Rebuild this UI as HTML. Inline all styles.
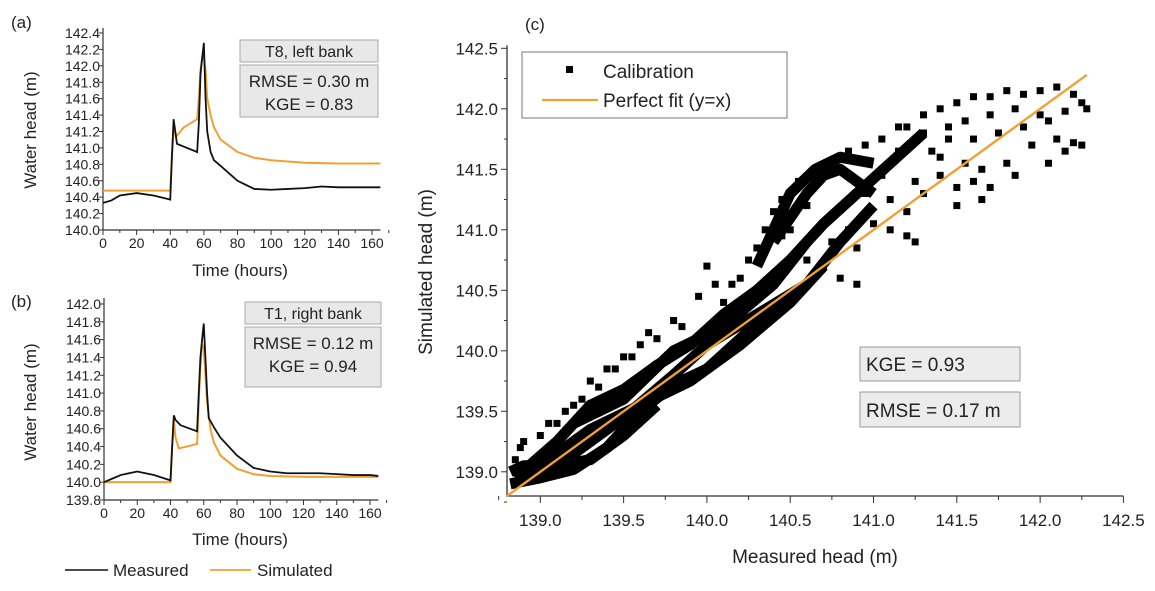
<!DOCTYPE html>
<html><head><meta charset="utf-8"><style>
html,body{margin:0;padding:0;background:#fff;}
svg{display:block;font-family:"Liberation Sans",Arial,sans-serif;}
</style></head><body>
<svg id="fig" width="1155" height="591" viewBox="0 0 1155 591" xmlns="http://www.w3.org/2000/svg">
<g id="pa"></g>
<g id="pb"></g>
<g id="pc"></g>
</svg>
<script>
// ---- Panel (a) data ----
const aMeasT=[0,5,10,20,30,38,40,41,42,44,50,56,57,58,59,60,61,62,64,66,70,80,90,100,110,120,130,140,150,160,165];
const aMeasV=[140.33,140.36,140.42,140.45,140.42,140.38,140.37,140.9,141.35,141.05,141.0,140.95,141.3,141.9,142.1,142.28,141.6,141.2,140.95,140.85,140.78,140.6,140.5,140.49,140.5,140.51,140.53,140.52,140.52,140.52,140.52];
const aSimT=[0,40,41,42,44,48,52,56,57,58,59,60,61,62,64,66,70,80,90,100,120,140,165];
const aSimV=[140.48,140.48,140.9,141.2,141.15,141.25,141.3,141.35,141.6,141.95,142.1,142.1,141.95,141.6,141.4,141.25,141.1,140.95,140.88,140.85,140.82,140.81,140.81];
const aYTicks=[140.0,140.2,140.4,140.6,140.8,141.0,141.2,141.4,141.6,141.8,142.0,142.2,142.4];
// ---- Panel (b) data ----
const bMeasT=[0,5,10,20,30,40,41,42,43,46,56,57,58,59,60,61,62,63,66,70,80,90,100,110,120,130,140,150,160,165];
const bMeasV=[140.0,140.04,140.08,140.12,140.08,140.02,140.4,140.75,140.7,140.64,140.57,141.0,141.4,141.6,141.78,141.4,141.0,140.72,140.62,140.5,140.3,140.16,140.12,140.1,140.1,140.1,140.09,140.08,140.08,140.07];
const bSimT=[0,40,41,42,43,45,50,56,57,58,59,60,61,62,64,66,70,80,90,100,120,140,165];
const bSimV=[140.0,140.0,140.4,140.7,140.5,140.38,140.4,140.43,140.9,141.3,141.55,141.5,141.2,140.9,140.6,140.45,140.3,140.15,140.09,140.07,140.06,140.06,140.06];
const bYTicks=[139.8,140.0,140.2,140.4,140.6,140.8,141.0,141.2,141.4,141.6,141.8,142.0];
const timeTicks=[0,20,40,60,80,100,120,140,160];
// ---- Panel (c) data ----
const cTicks=[139.0,139.5,140.0,140.5,141.0,141.5,142.0,142.5];
const trackLowM=[138.82,139.0,139.2,139.4,139.6,139.8,140.0,140.2,140.4,140.6];
const trackLowS=[138.9,138.95,139.02,139.2,139.5,139.72,139.85,140.1,140.35,140.55];
const trackMidM=[138.85,139.2,139.5,139.8,140.0,140.3,140.6,140.8,141.0];
const trackMidS=[138.95,139.15,139.45,139.8,140.05,140.3,140.55,140.9,141.2];
const trackUpM=[138.85,139.1,139.3,139.5,139.7,139.9,140.1,140.3,140.5,140.7,140.9,141.1,141.3];
const trackUpS=[138.95,139.25,139.55,139.68,139.88,140.05,140.3,140.5,140.75,141.05,141.3,141.55,141.8];
const trackLoopM=[140.3,140.4,140.5,140.65,140.8,141.0];
const trackLoopS=[140.7,141.0,141.3,141.5,141.6,141.55];
const track5M=[139.0,139.3,139.6,139.9,140.2,140.5,140.7];
const track5S=[139.05,139.35,139.55,139.75,140.05,140.4,140.7];
const track6M=[139.2,139.5,139.8,140.1,140.4,140.6];
const track6S=[139.4,139.6,140.0,140.2,140.55,140.9];
const track7M=[140.4,140.5,140.6,140.7,140.8,140.9,141.0];
const track7S=[140.9,141.1,141.3,141.45,141.5,141.4,141.3];
const track8M=[138.82,138.9,139.1,139.3,139.5,139.7];
const track8S=[139.0,139.05,139.05,139.1,139.3,139.55];
const ptsM=[141.3,141.4,141.5,141.6,141.7,141.8,141.9,142.0,142.1,142.2,142.25,142.28,141.2,141.3,141.45,141.55,141.7,141.85,142.0,142.15,141.4,141.55,141.65,141.8,141.95,142.1,142.2,142.25,141.5,141.6,141.7,141.3,141.4,141.25,141.0,141.1,141.2,141.25,140.9,140.7,140.8,140.9,140.0,140.05,139.95,140.1,140.2,140.3,140.35,140.4,140.45,140.55,140.65,140.75,140.85,140.95,141.05,141.15,139.6,139.65,139.5,139.4,139.3,139.2,139.1,138.85,138.9,138.88,
 141.35,141.45,141.6,141.75,141.9,142.05,141.15,141.05,140.95,141.1,141.2,140.85,140.75,140.6,140.5,140.45,140.55,140.6,139.8,139.85,139.7,139.55,139.45,139.35,139.25,139.15,139.0,139.05,140.15,140.25,141.5,141.65,141.85,142.05,142.15];
const ptsS=[141.95,142.0,142.05,142.1,142.1,142.15,142.12,142.15,142.18,142.12,142.05,142.0,141.85,141.8,141.85,141.9,141.95,142.0,141.95,141.98,141.6,141.55,141.5,141.55,141.7,141.75,141.72,141.7,141.35,141.4,141.35,141.3,141.45,141.4,141.05,141.0,140.95,140.9,140.85,140.7,140.6,140.55,140.7,140.55,140.45,140.4,140.6,140.85,141.0,141.15,141.25,141.4,141.5,141.55,141.65,141.7,141.75,141.85,140.05,140.15,139.95,139.85,139.75,139.55,139.4,139.1,139.25,139.2,
 141.65,141.75,141.75,141.8,141.85,141.9,141.65,141.45,141.3,141.25,141.15,141.0,140.9,141.2,141.0,140.95,140.8,140.75,140.25,140.2,140.1,139.95,139.85,139.7,139.6,139.5,139.3,139.4,140.55,140.75,141.2,141.25,141.45,141.55,141.65];

const NS="http://www.w3.org/2000/svg";
function mk(parent,tag,attrs,text){const e=document.createElementNS(NS,tag);for(const k in attrs)e.setAttribute(k,attrs[k]);if(text!==undefined)e.textContent=text;parent.appendChild(e);return e;}

function tsPanel(g,o){
  const X=t=>o.x0+t*o.kx, Y=v=>o.y0-(v-o.vmin)*o.ky;
  const ax=mk(g,'path',{d:`M${o.x0} ${o.top}V${o.y0}H${X(165)}`,stroke:'#333',fill:'none','stroke-width':1.2});
  
  
  o.yt.forEach(v=>{
    mk(g,'line',{x1:o.x0-4,x2:o.x0,y1:Y(v),y2:Y(v),stroke:'#333'});
    const t=mk(g,'text',{x:o.x0-3,y:Y(v)+5,'font-size':14,'text-anchor':'end',fill:'#222'},v.toFixed(1));
    
    
  });
  timeTicks.forEach(tt=>{
    mk(g,'line',{x1:X(tt),x2:X(tt),y1:o.y0,y2:o.y0+5,stroke:'#333'});
    mk(g,'line',{x1:X(tt+10),x2:X(tt+10),y1:o.y0,y2:o.y0+3,stroke:'#333'});
    const t=mk(g,'text',{x:X(tt),y:o.y0+18,'font-size':14,'text-anchor':'middle',fill:'#222'},String(tt));
    
    
  });
  const sim=mk(g,'polyline',{points:o.st.map((t,i)=>X(t)+','+Y(o.sv[i])).join(' '),fill:'none',stroke:'#f0a030','stroke-width':2});
  
  
  const mea=mk(g,'polyline',{points:o.mt.map((t,i)=>X(t)+','+Y(o.mv[i])).join(' '),fill:'none',stroke:'#111','stroke-width':1.8});
  
  
  const yt=mk(g,'text',{x:0,y:0,'font-size':17,'text-anchor':'middle',fill:'#222',transform:`translate(${o.ytx},${o.yty}) rotate(-90)`},'Water head (m)');
  
  
  const xt=mk(g,'text',{x:240,y:o.xty,'font-size':17,'text-anchor':'middle',fill:'#222'},'Time (hours)');
  
  
  const pl=mk(g,'text',{x:11,y:o.ply,'font-size':17,fill:'#222'},o.pl);
  
  
  const b1=mk(g,'rect',{x:o.bx,y:o.b1y,width:o.bw,height:22,fill:'#e8e8e8',stroke:'#aaa'});
  
  
  mk(g,'text',{x:o.bx+o.bw/2,y:o.b1y+17,'font-size':16,'text-anchor':'middle',fill:'#222'},o.site);
  const b2=mk(g,'rect',{x:o.bx,y:o.b2y,width:o.bw,height:o.b2h,fill:'#e8e8e8',stroke:'#aaa'});
  
  
  mk(g,'text',{x:o.bx+o.bw/2,y:o.b2y+22,'font-size':17,'text-anchor':'middle',fill:'#222'},o.rmse);
  mk(g,'text',{x:o.bx+o.bw/2,y:o.b2y+45,'font-size':17,'text-anchor':'middle',fill:'#222'},o.kge);
}
tsPanel(document.getElementById('pa'),{x0:103,kx:269/160,y0:230,vmin:140,ky:197/2.4,top:28,yt:aYTicks,
  mt:aMeasT,mv:aMeasV,st:aSimT,sv:aSimV,ytx:36,yty:130,xty:276,pl:'(a)',ply:28,
  bx:240,bw:138,b1y:40,b2y:65,b2h:52,site:'T8, left bank',rmse:'RMSE = 0.30 m',kge:'KGE = 0.83'});
tsPanel(document.getElementById('pb'),{x0:104,kx:266/160,y0:500,vmin:139.8,ky:196/2.2,top:298,yt:bYTicks,
  mt:bMeasT,mv:bMeasV,st:bSimT,sv:bSimV,ytx:36,yty:402,xty:545,pl:'(b)',ply:307,
  bx:245,bw:136,b1y:302,b2y:327,b2h:60,site:'T1, right bank',rmse:'RMSE = 0.12 m',kge:'KGE = 0.94'});
(function(){
  const g=document.getElementById('pb');
  const l1=mk(g,'line',{x1:65,x2:108,y1:570,y2:570,stroke:'#111','stroke-width':1.6});
  
  
  const t1=mk(g,'text',{x:113,y:576,'font-size':17,fill:'#222'},'Measured');
  
  
  const l2=mk(g,'line',{x1:210,x2:251,y1:570,y2:570,stroke:'#f0a030','stroke-width':1.8});
  
  
  const t2=mk(g,'text',{x:257,y:576,'font-size':17,fill:'#222'},'Simulated');
  
  
})();
(function(){
  const g=document.getElementById('pc');
  const x0=507,y0=496,kx=166.6,ky=121,vmin=138.8;
  const X=v=>x0+(v-vmin)*kx, Y=v=>y0-(v-vmin)*ky;
  const ax=mk(g,'path',{d:`M${x0} ${Y(142.5)-3}V${y0}H${X(142.5)}`,stroke:'#333',fill:'none','stroke-width':1.3});
  
  
  cTicks.forEach(v=>{
    mk(g,'line',{x1:x0-6,x2:x0,y1:Y(v),y2:Y(v),stroke:'#333'});
    mk(g,'line',{x1:x0-3,x2:x0,y1:Y(v-0.25),y2:Y(v-0.25),stroke:'#333'});
    const ty=mk(g,'text',{x:x0-9,y:Y(v)+6,'font-size':17,'text-anchor':'end',fill:'#222'},v.toFixed(1));
    
    
    mk(g,'line',{x1:X(v),x2:X(v),y1:y0,y2:y0+7,stroke:'#333'});
    mk(g,'line',{x1:X(v-0.25),x2:X(v-0.25),y1:y0,y2:y0+4,stroke:'#333'});
    const tx=mk(g,'text',{x:X(v),y:y0+30,'font-size':17,'text-anchor':'middle',fill:'#222'},v.toFixed(1));
    
    
  });
  [[trackLowM,trackLowS],[trackMidM,trackMidS],[trackUpM,trackUpS],[trackLoopM,trackLoopS],[track5M,track5S],[track6M,track6S],[track7M,track7S],[track8M,track8S]].forEach(tr=>{
    const p=mk(g,'polyline',{points:tr[0].map((m,i)=>X(m)+','+Y(tr[1][i])).join(' '),fill:'none',stroke:'#000','stroke-width':11,'stroke-linejoin':'round'});
    
    
  });
  ptsM.forEach((m,i)=>{
    const r=mk(g,'rect',{x:X(m)-3.5,y:Y(ptsS[i])-3.5,width:7,height:7,fill:'#000'});
    
    
  });
  const fit=mk(g,'line',{x1:X(138.8),y1:Y(138.8),x2:X(142.28),y2:Y(142.28),stroke:'#f0a030','stroke-width':2.4});
  
  
  const yt=mk(g,'text',{x:0,y:0,'font-size':19,'text-anchor':'middle',fill:'#222',transform:'translate(432,272) rotate(-90)'},'Simulated head (m)');
  
  
  const xt=mk(g,'text',{x:815,y:563,'font-size':19,'text-anchor':'middle',fill:'#222'},'Measured head (m)');
  
  
  const pl=mk(g,'text',{x:525,y:30,'font-size':17,fill:'#222'},'(c)');
  
  
  const lg=mk(g,'rect',{x:522,y:52,width:265,height:66,fill:'#fff',stroke:'#777'});
  
  
  mk(g,'rect',{x:566,y:66,width:7,height:7,fill:'#000'});
  const l1=mk(g,'text',{x:603,y:78,'font-size':19,fill:'#222'},'Calibration');
  
  
  mk(g,'line',{x1:542,x2:598,y1:100,y2:100,stroke:'#f0a030','stroke-width':2.2});
  const l2=mk(g,'text',{x:603,y:107,'font-size':19,fill:'#222'},'Perfect fit (y=x)');
  
  
  const k=mk(g,'rect',{x:860,y:347,width:160,height:34,fill:'#ececec',stroke:'#999'});
  
  
  mk(g,'text',{x:866,y:371,'font-size':19,fill:'#222'},'KGE = 0.93');
  const r=mk(g,'rect',{x:860,y:392,width:160,height:35,fill:'#ececec',stroke:'#999'});
  
  
  mk(g,'text',{x:866,y:417,'font-size':19,fill:'#222'},'RMSE = 0.17 m');
})();
</script>
</body></html>
